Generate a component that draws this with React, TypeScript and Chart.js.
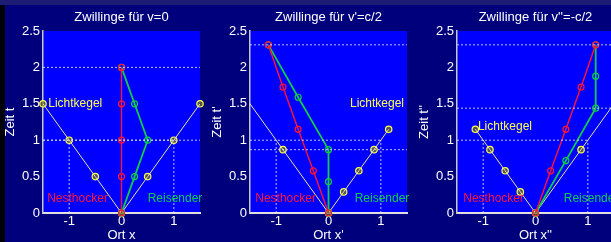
import React, { useEffect, useRef } from "react";
import { Chart, registerables } from "chart.js";
Chart.register(...registerables);

// ---------- data ----------
const xTicks = [-1, 0, 1];
const yTicks = [0, 0.5, 1, 1.5, 2, 2.5];
const xMin = -1.5;
const xMax = 1.5;
const yMin = 0;
const yMax = 2.5;

// Panel 1: v = 0
const nestX1 = [0, 0, 0, 0, 0];
const nestT1 = [0, 0.5, 1, 1.5, 2];
const reisX1 = [0, 0.25, 0.5, 0.25, 0];
const reisT1 = [0, 0.5, 1, 1.5, 2];
const coneX1 = [-2, -1.5, -1, -0.5, 0, 0.5, 1, 1.5, 2];
const coneT1 = [2, 1.5, 1, 0.5, 0, 0.5, 1, 1.5, 2];
const hLines1 = [2, 1];

// Panel 2: v' = c/2
const nestX2 = [0, -0.29, -0.58, -0.87, -1.15];
const nestT2 = [0, 0.58, 1.15, 1.73, 2.31];
const reisX2 = [0, 0, 0, -0.58, -1.15];
const reisT2 = [0, 0.43, 0.87, 1.59, 2.31];
const coneX2 = [-3.46, -2.6, -1.73, -0.87, 0, 0.29, 0.58, 0.87, 1.15];
const coneT2 = [3.46, 2.6, 1.73, 0.87, 0, 0.29, 0.58, 0.87, 1.15];
const hLines2 = [2.31, 0.87];

// Panel 3: v'' = -c/2
const nestX3 = [0, 0.29, 0.58, 0.87, 1.15];
const nestT3 = [0, 0.58, 1.15, 1.73, 2.31];
const reisX3 = [0, 0.58, 1.15, 1.15, 1.15];
const reisT3 = [0, 0.72, 1.44, 1.88, 2.31];
const coneX3 = [-1.15, -0.87, -0.58, -0.29, 0, 0.87, 1.73, 2.6, 3.46];
const coneT3 = [1.15, 0.87, 0.58, 0.29, 0, 0.87, 1.73, 2.6, 3.46];
const hLines3 = [2.31, 1.44];

// unit box (x = ±1, t = 1)
const boxX = [-1, 1];
const boxT = 1;

const titles = ["Zwillinge für v=0", "Zwillinge für v'=c/2", "Zwillinge für v''=-c/2"];
const xLabels = ["Ort x", "Ort x'", "Ort x''"];
const yLabels = ["Zeit t", "Zeit t'", "Zeit t''"];

// label anchors in data coordinates [x, t]
const lichtAt = [[-1.4, 1.5], [0.41, 1.5], [-1.1, 1.19]];
const nestAt = [[-1.42, 0.19], [-1.4, 0.19], [-1.38, 0.19]];
const reisAt = [[0.5, 0.19], [0.5, 0.19], [0.54, 0.19]];

const panels = [
  { nx: nestX1, nt: nestT1, rx: reisX1, rt: reisT1, cx: coneX1, ct: coneT1, h: hLines1 },
  { nx: nestX2, nt: nestT2, rx: reisX2, rt: reisT2, cx: coneX2, ct: coneT2, h: hLines2 },
  { nx: nestX3, nt: nestT3, rx: reisX3, rt: reisT3, cx: coneX3, ct: coneT3, h: hLines3 },
];

// ---------- styles ----------
const FONT = "'Liberation Sans', Arial, sans-serif";
const RED = "#ff1434";
const GREEN = "#10cc48";
const YELLOW = "#ffff50";
const CONE = "#e6e6a0";
const DOT = "rgba(225,225,255,0.85)";
const PLOT_BG = "#0000ff";
const FIG_BG = "#00007c";

const zip = (xs: number[], ts: number[]) => xs.map((x, i) => ({ x, y: ts[i] }));

function buildConfig(idx: number): any {
  const p = panels[idx];
  const dotted = (data: any[]) => ({
    data,
    showLine: true,
    borderColor: DOT,
    borderWidth: 1,
    borderDash: [2, 2],
    pointRadius: 0,
  });
  const refSets = [
    ...p.h.map((h) => dotted([{ x: xMin, y: h }, { x: xMax, y: h }])),
    dotted([{ x: xMin, y: boxT }, { x: boxX[1], y: boxT }]),
    ...boxX.map((bx) => dotted([{ x: bx, y: yMin }, { x: bx, y: boxT }])),
  ];
  const cone = zip(p.cx, p.ct);
  const coneMarks = cone.filter(
    (q) => q.x >= xMin - 0.01 && q.x <= xMax + 0.01 && q.y <= yMax + 0.01
  );
  const datasets = [
    ...refSets,
    {
      data: zip(p.nx, p.nt),
      showLine: true,
      borderColor: RED,
      borderWidth: 1.4,
      pointRadius: 3,
      pointBorderWidth: 1.2,
      pointBorderColor: RED,
      pointBackgroundColor: "rgba(0,0,0,0)",
      clip: false,
    },
    {
      data: zip(p.rx, p.rt),
      showLine: true,
      borderColor: GREEN,
      borderWidth: 1.8,
      pointRadius: 3,
      pointBorderWidth: 1.2,
      pointBorderColor: GREEN,
      pointBackgroundColor: "rgba(0,0,0,0)",
      clip: false,
    },
    {
      data: cone,
      showLine: true,
      borderColor: CONE,
      borderWidth: 1,
      pointRadius: 0,
      clip: 0,
    },
    {
      data: coneMarks,
      showLine: false,
      pointRadius: 3.2,
      pointBorderWidth: 1.2,
      pointBorderColor: YELLOW,
      pointBackgroundColor: "rgba(110,110,40,0.75)",
      clip: false,
    },
  ];

  const decor = {
    id: "decor" + idx,
    beforeDraw(chart: any) {
      const { ctx, chartArea: a } = chart;
      ctx.save();
      ctx.fillStyle = PLOT_BG;
      ctx.fillRect(a.left, a.top, a.right - a.left, a.bottom - a.top);
      ctx.restore();
    },
    afterDraw(chart: any) {
      const { ctx, chartArea: a, scales } = chart;
      const sx = scales.x;
      const sy = scales.y;
      ctx.save();
      ctx.textBaseline = "middle";
      ctx.textAlign = "center";
      ctx.fillStyle = "#ffffff";
      ctx.font = `13px ${FONT}`;
      ctx.fillText(titles[idx], (a.left + a.right) / 2, 17);
      ctx.font = `12px ${FONT}`;
      ctx.textAlign = "left";
      const put = (txt: string, at: number[], col: string) => {
        ctx.fillStyle = col;
        ctx.fillText(txt, sx.getPixelForValue(at[0]), sy.getPixelForValue(at[1]));
      };
      put("Lichtkegel", lichtAt[idx], YELLOW);
      put("Nesthocker", nestAt[idx], RED);
      put("Reisender", reisAt[idx], GREEN);
      ctx.restore();
    },
  };

  return {
    type: "scatter",
    data: { datasets },
    plugins: [decor],
    options: {
      animation: false,
      responsive: false,
      events: [],
      layout: { padding: { top: 31, right: 7, left: 0, bottom: 0 } },
      plugins: { legend: { display: false }, tooltip: { enabled: false }, title: { display: false } },
      scales: {
        x: {
          type: "linear",
          min: xMin,
          max: xMax,
          afterBuildTicks: (s: any) => {
            s.ticks = xTicks.map((v) => ({ value: v }));
          },
          afterFit: (s: any) => {
            s.height = 29;
          },
          grid: { display: false, drawTicks: false },
          border: { display: true, color: "#e0e0e0", width: 2 },
          ticks: {
            color: "#ffffff",
            padding: 1,
            font: { size: 13, family: FONT },
            maxRotation: 0,
            callback: (v: any) => String(v),
          },
          title: {
            display: true,
            text: xLabels[idx],
            color: "#ffffff",
            font: { size: 13, family: FONT, lineHeight: 1 },
            padding: { top: 0, bottom: 0 },
          },
        },
        y: {
          type: "linear",
          min: yMin,
          max: yMax,
          afterBuildTicks: (s: any) => {
            s.ticks = yTicks.map((v) => ({ value: v }));
          },
          afterFit: (s: any) => {
            s.width = 43;
          },
          grid: { display: false, drawTicks: false },
          border: { display: true, color: "#c8c8c8", width: 1.5 },
          ticks: {
            color: "#ffffff",
            padding: 3,
            font: { size: 13, family: FONT },
            callback: (v: any) => String(v),
          },
          title: {
            display: true,
            text: yLabels[idx],
            color: "#ffffff",
            font: { size: 13, family: FONT },
            padding: { top: 3, bottom: 0 },
          },
        },
      },
    },
  };
}

function Panel({ idx }: { idx: number }) {
  const ref = useRef<HTMLCanvasElement>(null);
  useEffect(() => {
    const chart = new Chart(ref.current as HTMLCanvasElement, buildConfig(idx));
    return () => chart.destroy();
  }, [idx]);
  return (
    <canvas
      ref={ref}
      width={207}
      height={242}
      style={{ position: "absolute", left: 207 * idx, top: 0, width: 207, height: 242 }}
    />
  );
}

export default function App() {
  return (
    <div
      style={{
        position: "fixed",
        left: 0,
        top: 0,
        width: 611,
        height: 242,
        overflow: "hidden",
        background: FIG_BG,
      }}
    >
      <div style={{ position: "absolute", left: 0, top: 0, width: 611, height: 5, background: "#1c1c74" }} />
      <div style={{ position: "absolute", left: 0, top: 5, width: 5, height: 237, background: "#000008" }} />
      {[0, 1, 2].map((i) => (
        <Panel key={i} idx={i} />
      ))}
    </div>
  );
}
